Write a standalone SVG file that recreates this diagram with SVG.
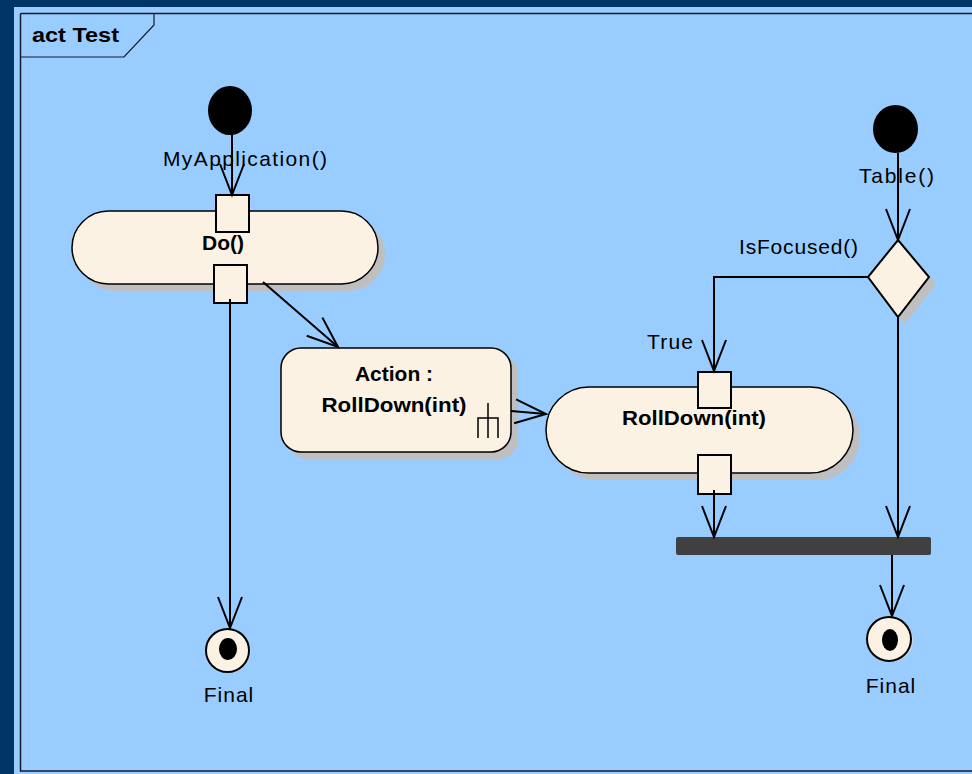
<svg xmlns="http://www.w3.org/2000/svg" width="972" height="774" viewBox="0 0 972 774">
  <style>
    .lbl { font-family: "Liberation Sans", Arial, sans-serif; font-size: 21px; fill: #000; letter-spacing: 1px; }
    .bold { font-family: "Liberation Sans", Arial, sans-serif; font-size: 21px; font-weight: bold; fill: #000; }
    .act { fill: #FCF2E4; stroke: #000; stroke-width: 1.5; }
    .shadow { fill: #BFBFBF; }
    .pin { fill: #FCF2E4; stroke: #000; stroke-width: 2; }
    .edge { fill: none; stroke: #000; stroke-width: 2; marker-end: url(#open); }
  </style>
  <defs>
    <marker id="open" markerUnits="userSpaceOnUse" viewBox="-40 -20 46 40" markerWidth="46" markerHeight="40" refX="0" refY="0" orient="auto" overflow="visible">
      <path d="M-31,-12 L0,0 L-31,12" fill="none" stroke="#000" stroke-width="2"/>
    </marker>
  </defs>

  <!-- window background and diagram area -->
  <rect x="0" y="0" width="972" height="774" fill="#003366"/>
  <rect x="14" y="7" width="958" height="767" fill="#99CCFF"/>

  <!-- frame -->
  <g id="frame">
    <path d="M20.5,13.5 H975 M20.5,13.5 V771 H975" fill="none" stroke="#1a1a2e" stroke-width="1.5"/>
    <path d="M20.5,57 H124 L154,25 V13.5" fill="none" stroke="#1a1a2e" stroke-width="1.2"/>
    <text x="32" y="42" class="bold" font-size="21" textLength="87" lengthAdjust="spacingAndGlyphs">act Test</text>
  </g>

  <!-- left initial node -->
  <g id="initial1">
    <ellipse cx="230" cy="110.5" rx="22" ry="24.5" fill="#000"/>
  </g>

  <!-- Do() action with input/output pins -->
  <g id="do">
    <rect x="79" y="218" width="306" height="73" rx="36.5" class="shadow"/>
    <rect x="72" y="211" width="306" height="73" rx="36.5" class="act"/>
    <text x="223" y="250" class="bold" text-anchor="middle">Do()</text>
    <rect x="216" y="195" width="33" height="37" class="pin"/>
    <rect x="214" y="265" width="33" height="38" class="pin"/>
  </g>

  <!-- call behavior action -->
  <g id="action">
    <rect x="288" y="355" width="230" height="104" rx="20" class="shadow"/>
    <rect x="281" y="348" width="230" height="104" rx="20" class="act"/>
    <text x="394" y="381" class="bold" text-anchor="middle">Action :</text>
    <text x="394" y="412" class="bold" text-anchor="middle" textLength="145" lengthAdjust="spacingAndGlyphs">RollDown(int)</text>
    <path d="M488,403 V438 M478,438 V418 H498 V438" fill="none" stroke="#000" stroke-width="1.5"/>
  </g>

  <!-- RollDown(int) action with pins -->
  <g id="rolldown">
    <rect x="553" y="394" width="307" height="86" rx="43" class="shadow"/>
    <rect x="546" y="387" width="307" height="86" rx="43" class="act"/>
    <text x="694" y="425" class="bold" text-anchor="middle" textLength="144" lengthAdjust="spacingAndGlyphs">RollDown(int)</text>
    <rect x="698" y="372" width="33" height="36" class="pin"/>
    <rect x="698" y="455" width="33" height="39" class="pin"/>
  </g>

  <!-- right initial node -->
  <g id="initial2">
    <ellipse cx="895.5" cy="129" rx="22.5" ry="24" fill="#000"/>
  </g>

  <!-- decision -->
  <g id="decision">
    <polygon points="905,247 936,284 905,324 875,284" class="shadow"/>
    <polygon points="898,240 929,277 898,317 868,277" fill="#FCF2E4" stroke="#000" stroke-width="2"/>
  </g>

  <!-- join bar -->
  <g id="join">
    <rect x="676" y="537" width="255" height="18" rx="2" fill="#404040"/>
  </g>

  <!-- final nodes -->
  <g id="final1">
    <circle cx="229" cy="651" r="21.5" fill="#D8D8D8"/>
    <circle cx="227.5" cy="650.5" r="21.5" fill="#FCF2E4" stroke="#000" stroke-width="2"/>
    <ellipse cx="228" cy="649" rx="9" ry="11" fill="#000"/>
    <text x="229" y="702" class="lbl" text-anchor="middle">Final</text>
  </g>
  <g id="final2">
    <circle cx="891" cy="640" r="22" fill="#D8D8D8"/>
    <circle cx="889" cy="639" r="22" fill="#FCF2E4" stroke="#000" stroke-width="2"/>
    <ellipse cx="890" cy="640" rx="8" ry="11" fill="#000"/>
    <text x="891" y="693" class="lbl" text-anchor="middle">Final</text>
  </g>

  <!-- control and object flows -->
  <g id="connectors">
    <path class="edge" d="M232,135 V195"/>
    <path class="edge" d="M230,299 V628"/>
    <path class="edge" d="M263,282 L338,347"/>
    <path class="edge" d="M511,411 L546,414"/>
    <path class="edge" d="M898,153 V240"/>
    <path class="edge" d="M868,277 H714 V371"/>
    <path class="edge" d="M714,490 V537"/>
    <path class="edge" d="M898,317 V537"/>
    <path class="edge" d="M892,555 V616"/>
  </g>

  <!-- flow labels -->
  <g id="labels">
    <text x="163" y="166" class="lbl" textLength="165" lengthAdjust="spacing">MyApplication()</text>
    <text x="859" y="183" class="lbl" textLength="76" lengthAdjust="spacing">Table()</text>
    <text x="739" y="254" class="lbl" textLength="120" lengthAdjust="spacing">IsFocused()</text>
    <text x="647" y="349" class="lbl" textLength="47" lengthAdjust="spacing">True</text>
  </g>
</svg>
